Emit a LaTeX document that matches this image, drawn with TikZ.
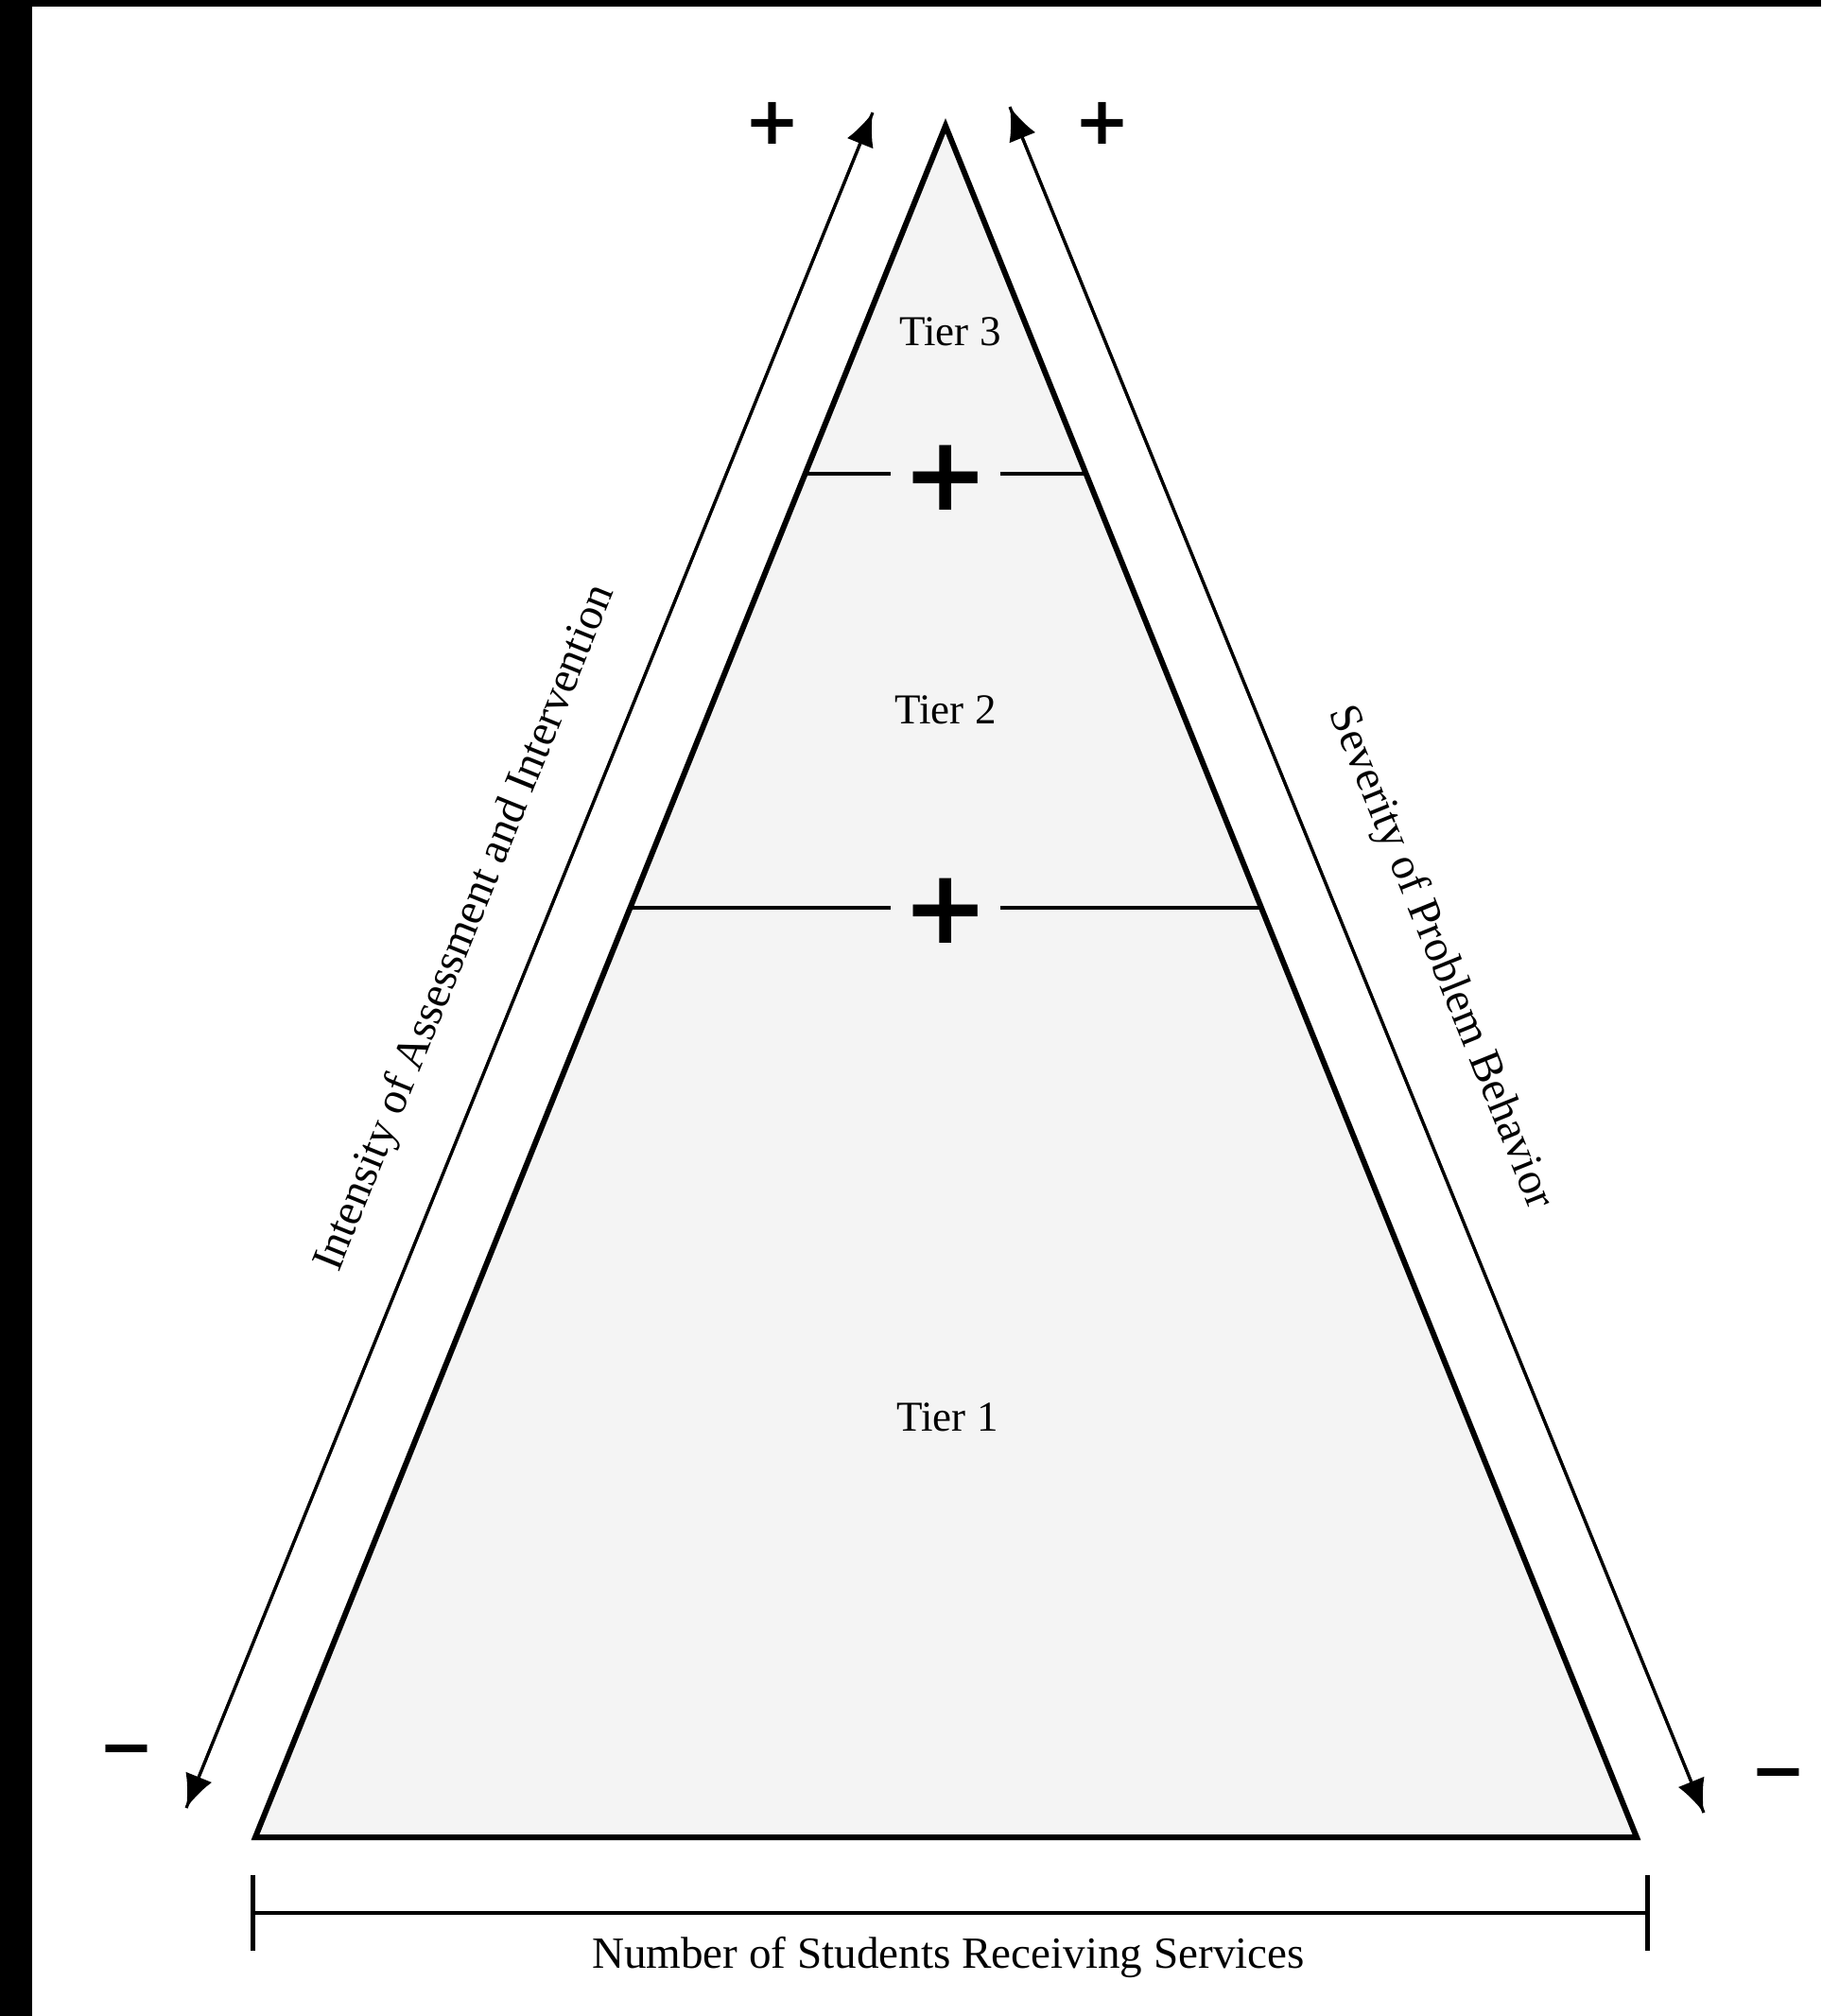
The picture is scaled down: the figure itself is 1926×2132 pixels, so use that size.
\documentclass[tikz,border=0pt]{standalone}
\usepackage{fontspec}
\setmainfont{Liberation Serif}
\newfontfamily\symfont{DejaVu Sans}
\usetikzlibrary{arrows.meta,calc}
\definecolor{tierfill}{RGB}{244,244,244}
\begin{document}
\begin{tikzpicture}[x=0.01cm,y=-0.01cm,
  tierlabel/.style={font=\fontsize{12.8pt}{14pt}\selectfont, anchor=base, inner sep=0pt},
  axislabel/.style={font=\fontsize{13.5pt}{15pt}\selectfont, inner sep=0pt},
  scalearrow/.style={line width=0.9pt, -{Latex[length=10pt,width=8.5pt]}},
  pyr/.style={draw, fill=tierfill, line width=1.7pt, line join=miter},
  divider/.style={line width=1.4pt},
  bigsign/.style={font=\symfont\bfseries\fontsize{31pt}{31pt}\selectfont, inner sep=0pt, minimum width=1.14cm},
  endsign/.style={font=\symfont\bfseries\fontsize{20pt}{20pt}\selectfont, inner sep=0pt},
  bracket/.style={line width=1.4pt, {Bar[width=0.8cm]}-{Bar[width=0.8cm]}},
]
\useasboundingbox (0,0) rectangle (1926,2132);
\fill[white] (0,0) rectangle (1926,2132);
\fill[black] (0,0) rectangle (34,2132);
\fill[black] (0,0) rectangle (1926,7);

% pyramid
\coordinate (apex) at (1000,133);
\coordinate (bl) at (270,1943);
\coordinate (br) at (1731,1943);
\path[pyr] (apex) -- (br) -- (bl) -- cycle;

% dividers
\coordinate (d1l) at ($(apex)!0.2033!(bl)$);
\coordinate (d1r) at ($(apex)!0.2033!(br)$);
\coordinate (d2l) at ($(apex)!0.4569!(bl)$);
\coordinate (d2r) at ($(apex)!0.4569!(br)$);
\node[bigsign] (p1) at ($(d1l)!0.5!(d1r)+(0,4)$) {+};
\node[bigsign] (p2) at ($(d2l)!0.5!(d2r)+(0,3)$) {+};
\draw[divider] (d1l) -- (d1l -| p1.west);
\draw[divider] (p1.east |- d1r) -- (d1r);
\draw[divider] (d2l) -- (d2l -| p2.west);
\draw[divider] (p2.east |- d2r) -- (d2r);

% tier labels
\node[tierlabel] (t3) at (1005,365) {Tier 3};
\node[tierlabel] (t2) at (1000,765) {Tier 2};
\node[tierlabel] (t1) at (1002,1513) {Tier 1};

% side arrows
\coordinate (la1) at (197,1912);
\coordinate (la2) at (923,119);
\coordinate (ra1) at (1802,1917);
\coordinate (ra2) at (1068,113);
\draw[scalearrow] (la1) -- (la2);
\draw[scalearrow] (la2) -- (la1);
\draw[scalearrow] (ra1) -- (ra2);
\draw[scalearrow] (ra2) -- (ra1);

% signs at the arrow ends
\node[endsign] (lplus) at (817,130) {+};
\node[endsign] (rplus) at (1166,130) {+};
\node[endsign] (lminus) at (134,1858) {−};
\node[endsign] (rminus) at (1881,1883) {−};

% axis labels
\node[axislabel, rotate=68] (intens) at (493,982) {Intensity of Assessment and Intervention};
\node[axislabel, rotate=-68] (sever) at (1523,1013) {Severity of Problem Behavior};

% bottom bracket
\coordinate (b1) at (265,2023);
\coordinate (b2) at (1745,2023);
\draw[bracket] (b1) -- (b2);
\node[anchor=base, inner sep=0pt, font=\fontsize{13.4pt}{15pt}\selectfont] (num) at (1003,2081) {Number of Students Receiving Services};
\end{tikzpicture}
\end{document}
